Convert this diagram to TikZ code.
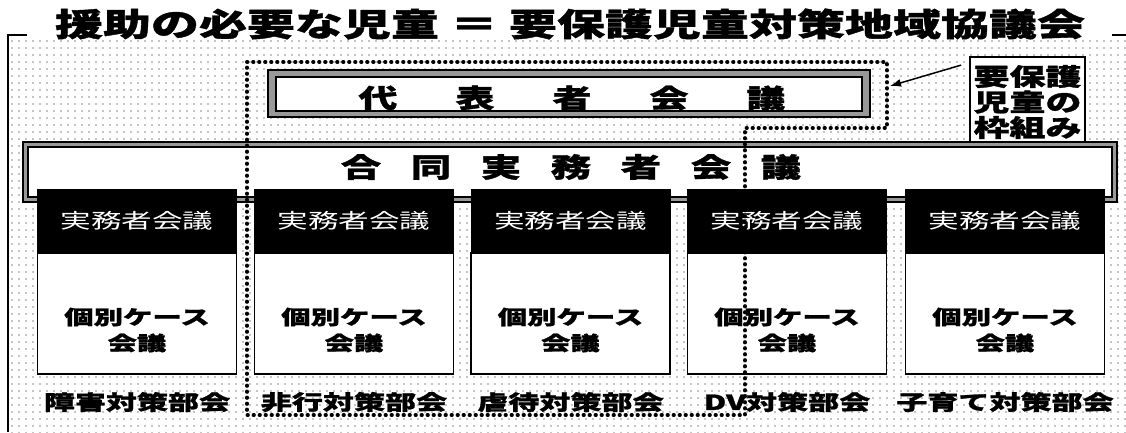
\documentclass[tikz,border=0pt]{standalone}
\usepackage{fontspec}
\newfontfamily\jp[FakeStretch=1.5, BoldFeatures={FakeBold=1.2}]{Noto Sans CJK JP}
\usetikzlibrary{patterns.meta,arrows.meta}
\begin{document}
\begin{tikzpicture}[x=1pt,y=-1pt,
  frameline/.style={line width=1.5pt},
  dblouter/.style={draw=black, line width=1.4pt, fill=black!40, inner sep=0pt},
  dblinner/.style={draw=black, line width=1.4pt, fill=white, inner sep=0pt},
  bigtext/.style={inner sep=0pt, font=\jp\bfseries\fontsize{26}{30}\selectfont},
  bandtext/.style={inner sep=0pt, font=\jp\bfseries\fontsize{27}{32}\selectfont},
  hdr/.style={fill=black, text=white, minimum width=200pt, minimum height=64pt, inner sep=0pt,
              font=\jp\fontsize{20.4}{24}\selectfont},
  body/.style={draw=black, line width=1.3pt, fill=white, minimum width=199pt, minimum height=121pt, inner sep=0pt},
  bodytext/.style={inner sep=0pt, align=center, font=\jp\bfseries\fontsize{19.6}{26}\selectfont},
  lbl/.style={inner sep=0pt, font=\jp\bfseries\fontsize{20.7}{24}\selectfont},
  wakuline/.style={draw=black, line width=3.6pt, line cap=round, dash pattern=on 0.6pt off 5.4pt},
  notebox/.style={draw=black, line width=1.8pt, fill=white, minimum width=115pt, minimum height=85pt, inner sep=0pt},
  notetext/.style={inner sep=0pt, align=center, font=\jp\bfseries\fontsize{24}{25.5}\selectfont},
  pointer/.style={line width=1.5pt, -{Latex[length=11pt,width=8pt]}}
]
\useasboundingbox (0,0) rectangle (1126,432);
\fill[white] (0,0) rectangle (1126,432);
\fill[pattern={Dots[distance=6.5pt,radius=0.65pt]}, pattern color=black] (10,38) rectangle (1126,432);

% outer frame
\draw[frameline] (27,35) -- (8,35) -- (8,432);
\draw[frameline] (1112,35) -- (1126,35);

% title
\node[inner sep=0pt, font=\jp\bfseries\fontsize{32}{36}\selectfont] (title) at (570,24)
  {援助の必要な児童 ＝ 要保護児童対策地域協議会};

% representatives meeting
\node[dblouter, minimum width=602pt, minimum height=47pt] (rep) at (569,93.5) {};
\node[dblinner, minimum width=586pt, minimum height=34pt] (repin) at (569,94) {};
\node[bigtext] (reptext) at (572,98)
  {代\hspace{58pt}表\hspace{58pt}者\hspace{58pt}会\hspace{58pt}議};

% joint practitioners meeting band
\node[dblouter, minimum width=1094pt, minimum height=60pt] (band) at (570,172) {};
\node[dblinner, minimum width=1084pt, minimum height=50pt] (bandin) at (570,172) {};
\node[bandtext] (bandtext) at (571,167)
  {合\hspace{29.5pt}同\hspace{29.5pt}実\hspace{29.5pt}務\hspace{29.5pt}者\hspace{29.5pt}会\hspace{29.5pt}議};

% columns
\foreach \i/\cx/\lab in {1/137/障害対策部会, 2/354/非行対策部会, 3/570.5/虐待対策部会, 4/787/DV対策部会, 5/1005/子育て対策部会} {
  \node[body] (b\i) at (\cx,313.5) {};
  \node[hdr] (h\i) at (\cx,221) {実務者会議};
  \node[bodytext] (bt\i) at (\cx,330) {個別ケース\\会議};
  \node[lbl] (l\i) at (\cx,402) {\lab};
}

% framework of children requiring protection (dotted outline)
\draw[wakuline] (247,62) -- (887,62) -- (887,128) -- (745,128) -- (745,415) -- (247,415) -- cycle;

% note box and arrow
\node[notebox] (wk) at (1027.5,99.5) {};
\node[notetext] (wktext) at (1027.5,102) {要保護\\児童の\\枠組み};
\coordinate (tip) at (890,86);
\draw[pointer] ([xshift=-8pt,yshift=-9pt]wk.north west) -- (tip);
\end{tikzpicture}
\end{document}
